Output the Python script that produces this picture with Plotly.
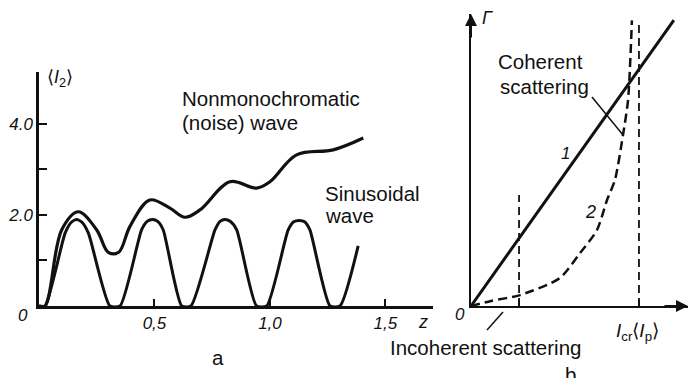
import plotly.graph_objects as go

W, H = 690, 378

# ---------------- data: panel a ----------------
sin_z = [0.0, 0.026, 0.113, 0.140, 0.163, 0.186, 0.214, 0.307, 0.351, 0.444, 0.468, 0.491, 0.514, 0.538,
         0.618, 0.658, 0.762, 0.784, 0.805, 0.828, 0.856, 0.942, 0.986, 1.079, 1.103, 1.126, 1.150, 1.173,
         1.260, 1.303, 1.382]
sin_I = [0, 0, 1.6, 1.84, 1.9, 1.84, 1.6, 0, 0, 1.67, 1.86, 1.9, 1.86, 1.67,
         0, 0, 1.67, 1.86, 1.9, 1.86, 1.67, 0, 0, 1.67, 1.85, 1.88, 1.85, 1.67,
         0, 0, 1.32]
noise_z = [0, 0.026, 0.098, 0.17, 0.25, 0.30, 0.345, 0.394, 0.48, 0.567, 0.632, 0.697, 0.827, 0.942,
           1.0, 1.115, 1.274, 1.404]
noise_I = [0, 0, 1.67, 2.07, 1.67, 1.18, 1.18, 1.75, 2.33, 2.15, 1.95, 2.11, 2.73, 2.59,
           2.73, 3.32, 3.43, 3.69]
a_yticks = [1, 2, 3, 4]
a_yticklabels = ["", "2.0", "", "4.0"]
a_xticks = [0.5, 1.0, 1.5]
a_xticklabels = ["0,5", "1,0", "1,5"]

# ---------------- data: panel b ----------------
line1_x = [0, 1.208]
line1_y = [0, 1.702]
curve2_x = [0, 0.12, 0.292, 0.53, 0.649, 0.75, 0.81, 0.857, 0.905, 0.935, 0.958]
curve2_y = [0, 0.03, 0.065, 0.167, 0.315, 0.452, 0.631, 0.75, 1.018, 1.226, 1.70]
vinc_x = [0.286, 0.286]
vinc_y = [0, 0.66]
vcr_x = [1.0, 1.0]
vcr_y = [0, 1.70]
b_xticks = [0.286, 1.0]


def px(x):
    return x / W


def py(y):
    return 1 - y / H


FONT = "Liberation Sans, Arial, Helvetica, sans-serif"
BLACK = "#111111"

fig = go.Figure()

fig.add_trace(go.Scatter(x=sin_z, y=sin_I, mode="lines", line=dict(color=BLACK, width=3, shape="spline", smoothing=0.6),
                         xaxis="x", yaxis="y", showlegend=False, hoverinfo="skip"))
fig.add_trace(go.Scatter(x=noise_z, y=noise_I, mode="lines", line=dict(color=BLACK, width=3.2, shape="spline", smoothing=1.0),
                         xaxis="x", yaxis="y", showlegend=False, hoverinfo="skip"))

fig.add_trace(go.Scatter(x=line1_x, y=line1_y, mode="lines", line=dict(color=BLACK, width=3),
                         xaxis="x2", yaxis="y2", showlegend=False, hoverinfo="skip"))
fig.add_trace(go.Scatter(x=curve2_x, y=curve2_y, mode="lines",
                         line=dict(color=BLACK, width=2.5, dash="9px,5px", shape="spline", smoothing=0.7),
                         xaxis="x2", yaxis="y2", showlegend=False, hoverinfo="skip"))
fig.add_trace(go.Scatter(x=vinc_x, y=vinc_y, mode="lines", line=dict(color=BLACK, width=1.8, dash="8px,5px"),
                         xaxis="x2", yaxis="y2", showlegend=False, hoverinfo="skip"))
fig.add_trace(go.Scatter(x=vcr_x, y=vcr_y, mode="lines", line=dict(color=BLACK, width=1.8, dash="8px,5px"),
                         xaxis="x2", yaxis="y2", showlegend=False, hoverinfo="skip"))

tickfont = dict(family=FONT, size=17, color=BLACK, style="italic")

fig.update_layout(
    width=W, height=H, margin=dict(l=0, r=0, t=0, b=0),
    paper_bgcolor="white", plot_bgcolor="white",
    xaxis=dict(domain=[px(39), px(433)], range=[0, 1.706], showgrid=False, zeroline=False,
               showline=True, linecolor=BLACK, linewidth=2.5, ticks="inside", ticklen=7, tickwidth=1.5,
               tickcolor=BLACK, tickvals=a_xticks, ticktext=a_xticklabels, tickfont=tickfont,
               anchor="y"),
    yaxis=dict(domain=[py(306), py(72)], range=[0, 5.14], showgrid=False, zeroline=False,
               showline=True, linecolor=BLACK, linewidth=2.5, ticks="inside", ticklen=8, tickwidth=1.5,
               tickcolor=BLACK, tickvals=a_yticks, ticktext=a_yticklabels, tickfont=tickfont,
               anchor="x"),
    xaxis2=dict(domain=[px(471), px(688)], range=[0, 1.292], showgrid=False, zeroline=False,
                showline=True, linecolor=BLACK, linewidth=2, ticks="inside", ticklen=6, tickwidth=1.5,
                tickcolor=BLACK, tickvals=b_xticks, showticklabels=False, anchor="y2"),
    yaxis2=dict(domain=[py(306), py(14)], range=[0, 1.738], showgrid=False, zeroline=False,
                showline=True, linecolor=BLACK, linewidth=2, ticks="", showticklabels=False, anchor="x2"),
)

ann = []


def text(t, x, y, size=20.5, xanchor="left", italic=False):
    ann.append(dict(text=t, x=px(x), y=py(y), xref="paper", yref="paper", xanchor=xanchor, yanchor="middle",
                    showarrow=False, font=dict(family=FONT, size=size, color=BLACK,
                                               style="italic" if italic else "normal")))


text("Nonmonochromatic", 180, 99)
text("(noise) wave", 180, 122)
text("Sinusoidal", 323, 193)
text("wave", 323, 215)
text("a", 218, 357, xanchor="center")
text("Coherent", 496, 62)
text("scattering", 498, 87)
text("Incoherent scattering", 388, 347)
text("b", 570, 374, xanchor="center")
text("1", 565, 153, size=17, xanchor="center", italic=True)
text("2", 590, 212, size=18, xanchor="center", italic=True)
text("Γ", 480, 18, size=18, italic=True)
text("⟨<i>I</i><sub>2</sub>⟩", 45, 79, size=18)
text("0", 23, 315, size=17, xanchor="center", italic=True)
text("z", 423, 322, size=18, xanchor="center", italic=True)
text("0", 460, 314, size=17, xanchor="center", italic=True)
text("<i>I</i><sub>cr</sub>⟨<i>I</i><sub>p</sub>⟩", 614, 332, size=19)

# axis arrows (panel b)
ann.append(dict(x=0, y=1.738, xref="x2", yref="y2", ax=0, ay=25, text="", showarrow=True,
                arrowhead=2, arrowsize=1.2, arrowwidth=2, arrowcolor=BLACK, standoff=0))
ann.append(dict(x=1.292, y=0, xref="x2", yref="y2", ax=-25, ay=0, text="", showarrow=True,
                arrowhead=2, arrowsize=1.2, arrowwidth=2, arrowcolor=BLACK, standoff=0))

# leader lines (paper coordinates)
leaders = [((592, 97), (623, 135)), ((487, 330), (503, 312))]
shapes = [dict(type="line", xref="paper", yref="paper", x0=px(a[0]), y0=py(a[1]), x1=px(b[0]), y1=py(b[1]),
               line=dict(color=BLACK, width=1.5)) for a, b in leaders]

fig.update_layout(annotations=ann, shapes=shapes)
fig.write_html("out.html", config={"displayModeBar": False},
               post_script="document.body.style.margin='0';")
